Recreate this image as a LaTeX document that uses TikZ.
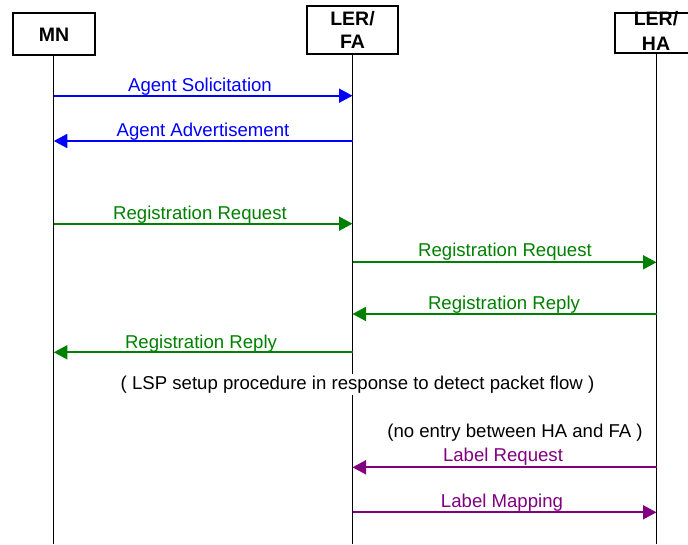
\documentclass[tikz,border=0pt]{standalone}
\usepackage{fontspec}
\setmainfont{Liberation Sans}
\usetikzlibrary{arrows.meta}
\definecolor{msgblue}{RGB}{0,0,255}
\definecolor{msggreen}{RGB}{0,128,0}
\definecolor{msgpurple}{RGB}{128,0,128}
\begin{document}
\begin{tikzpicture}[x=1pt,y=-1pt,
  actorbox/.style={draw,line width=2pt,fill=white,inner sep=0pt},
  hdr/.style={font=\bfseries\fontsize{19.5}{23}\selectfont,inner sep=0pt,anchor=base},
  life/.style={line width=1.3pt},
  msg/.style={line width=1.8pt,-{Triangle[length=13.5pt,width=14pt]}},
  lbl/.style={font=\fontsize{18.6}{22}\selectfont,inner sep=0pt,anchor=base},
  note/.style={lbl,fill=white,inner sep=1.5pt}]
\useasboundingbox (0,0) rectangle (688,544);

% participants
\node[actorbox,minimum width=82pt,minimum height=41.5pt] (mn) at (53.8,34.2) {};
\node[actorbox,minimum width=91pt,minimum height=48pt] (fa) at (352.5,30) {};
\node[actorbox,minimum width=83pt,minimum height=40pt] (ha) at (656.5,32.7) {};
\node[hdr] (mnt) at (54,41.7) {MN};
\node[hdr] (fat1) at (352.5,25) {LER/};
\node[hdr] (fat2) at (352.5,48) {FA};
\node[hdr] (hat1) at (656,25.5) {LER/};
\node[hdr] (hat2) at (656,50.7) {HA};

% lifelines
\coordinate (mnEnd) at (53.8,544);
\coordinate (faEnd) at (352.5,544);
\coordinate (haEnd) at (656.5,544);
\draw[life] (mn) -- (mnEnd);
\draw[life] (fa) -- (faEnd);
\draw[life] (ha) -- (haEnd);

% agent discovery
\draw[msg,msgblue] (mn.south |- 0,95.7) -- (fa.south |- 0,95.7);
\node[lbl,text=msgblue] (l1) at (200,91) {Agent Solicitation};
\draw[msg,msgblue] (fa.south |- 0,141) -- (mn.south |- 0,141);
\node[lbl,text=msgblue] (l2) at (203,136) {Agent Advertisement};

% registration
\draw[msg,msggreen] (mn.south |- 0,223.7) -- (fa.south |- 0,223.7);
\node[lbl,text=msggreen] (l3) at (200,219.3) {Registration Request};
\draw[msg,msggreen] (fa.south |- 0,262.3) -- (ha.south |- 0,262.3);
\node[lbl,text=msggreen] (l4) at (505,256.7) {Registration Request};
\draw[msg,msggreen] (ha.south |- 0,314) -- (fa.south |- 0,314);
\node[lbl,text=msggreen] (l5) at (504,309) {Registration Reply};
\draw[msg,msggreen] (fa.south |- 0,352.3) -- (mn.south |- 0,352.3);
\node[lbl,text=msggreen] (l6) at (201,348.3) {Registration Reply};

% LSP setup
\node[note] (lsp) at (357.5,389.3) {( LSP setup procedure in response to detect packet flow )};
\node[lbl] (noentry) at (515,437.3) {(no entry between HA and FA )};
\draw[msg,msgpurple] (ha.south |- 0,467.3) -- (fa.south |- 0,467.3);
\node[lbl,text=msgpurple] (l7) at (503,461) {Label Request};
\draw[msg,msgpurple] (fa.south |- 0,512.3) -- (ha.south |- 0,512.3);
\node[lbl,text=msgpurple] (l8) at (502,507.7) {Label Mapping};
\end{tikzpicture}
\end{document}
